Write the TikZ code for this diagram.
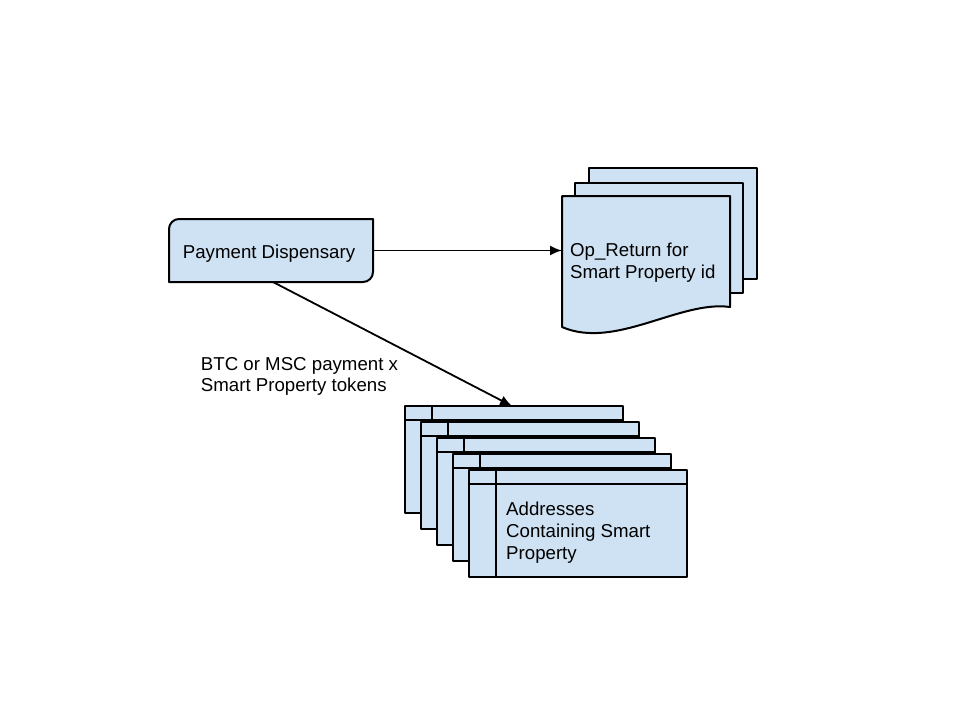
\documentclass[tikz,border=0pt]{standalone}
\usepackage{fontspec}
\setmainfont{Liberation Sans}
\usetikzlibrary{arrows.meta}
\definecolor{shapefill}{HTML}{CFE2F3}
\tikzset{
  shapebox/.style={draw=black, fill=shapefill, line width=2pt, line join=round},
  anchorbox/.style={draw=none, inner sep=0pt, outer sep=0pt},
  lbl/.style={anchor=base west, inner sep=0pt, font=\fontsize{18.67}{21.7}\selectfont, align=left},
  conn/.style={draw=black, line width=1.8pt, -{Latex[length=12pt,width=10pt]}},
}
\begin{document}
\begin{tikzpicture}[x=1pt,y=-1pt]
\useasboundingbox (0,0) rectangle (960,720);

% Payment Dispensary (rounded top-left and bottom-right corners)
\path[shapebox] (169,282) -- (169,229) .. controls (169,223.5) and (173.5,219) .. (179,219)
  -- (373,219) -- (373,272) .. controls (373,277.5) and (368.5,282) .. (363,282) -- cycle;
\node[anchorbox, minimum width=204pt, minimum height=63pt] (pd) at (271,250.5) {};
\node[lbl] (pdtext) at (182.7,258.3) {Payment Dispensary};

% Multi-document
\path[shapebox] (589,168) rectangle (757,278.5);
\path[shapebox] (575,182.5) rectangle (743,292.5);
\path[shapebox] (562,196) -- (730,196) -- (730,307)
  .. controls (680,300) and (615,350) .. (562,327) -- cycle;
\node[anchorbox, minimum width=168pt, minimum height=131pt] (doc) at (646,261.5) {};
\node[lbl] (doctext) at (570,278.3) {Op\_Return for\\Smart Property id};

% Internal storage stack
\foreach \i in {0,...,4}{
  \pgfmathsetmacro{\L}{405+16*\i}
  \pgfmathsetmacro{\T}{406+16.1*\i}
  \path[shapebox] (\L,\T) rectangle ({\L+218},{\T+106.5});
  \draw[line width=2pt] ({\L+27},\T) -- ({\L+27},{\T+106.5});
  \draw[line width=2pt] (\L,{\T+13.5}) -- ({\L+218},{\T+13.5});
}
\node[anchorbox, minimum width=218pt, minimum height=106.5pt] (st1) at (512,459.25) {};
\node[anchorbox, minimum width=218pt, minimum height=106.5pt] (st5) at (578,523.65) {};
\node[lbl] (sttext) at (506,559) {Addresses\\Containing Smart\\Property};

% Connectors
\draw[conn] (pd.east) -- (pd.east -| doc.west);
\draw[conn] ([xshift=2pt]pd.south) -- (st1.north);

% Connector label
\node[lbl] (paylabel) at (200.7,391.7) {BTC or MSC payment x\\Smart Property tokens};
\end{tikzpicture}
\end{document}
